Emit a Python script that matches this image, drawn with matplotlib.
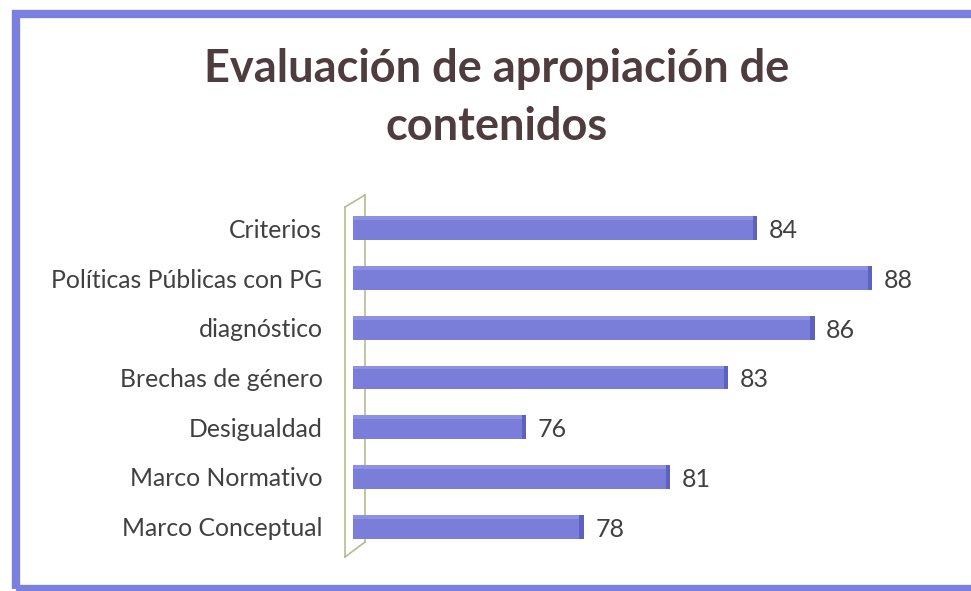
import matplotlib.pyplot as plt
from matplotlib.patches import Rectangle
from matplotlib.lines import Line2D

# Datos del gráfico (de abajo hacia arriba)
categorias = ["Marco Conceptual", "Marco Normativo", "Desigualdad",
              "Brechas de género", "diagnóstico", "Políticas Públicas con PG",
              "Criterios"]
valores = [78, 81, 76, 83, 86, 88, 84]

titulo = "Evaluación de apropiación de\ncontenidos"

COLOR_BARRA = "#7a7ed9"
COLOR_LADO = "#5d61c2"
COLOR_BRILLO = "#8d91e2"
COLOR_MARCO = "#7a80dd"
COLOR_PARED = "#b4bc94"

plt.rcParams['font.family'] = ['Lato', 'DejaVu Sans']

fig = plt.figure(figsize=(9.71, 5.91), dpi=100)
fig.patch.set_facecolor("white")

# marco azul alrededor del gráfico
fig.add_artist(Rectangle((16 / 971, 2 / 591), 1.2, 575 / 591,
                         transform=fig.transFigure, fill=False,
                         edgecolor=COLOR_MARCO, linewidth=6))

ax = fig.add_axes([353 / 971, 1 - 554 / 591, (930 - 353) / 971, 353 / 591])
ax.set_facecolor("none")
ax.set_zorder(2)

pos = list(range(len(categorias)))
alto = 0.48
ax.barh(pos, [v - 70 for v in valores], left=70, height=alto,
        color=COLOR_BARRA, edgecolor="none", zorder=2)
# borde superior claro y lado oscuro para simular el 3D
ax.barh([p + alto * 0.42 for p in pos], [v - 70 for v in valores], left=70,
        height=alto * 0.16, color=COLOR_BRILLO, edgecolor="none", zorder=3)
ax.barh(pos, [0.15] * len(valores), left=[v - 0.15 for v in valores],
        height=alto, color=COLOR_LADO, edgecolor="none", zorder=4)

for p, v in zip(pos, valores):
    ax.text(v + 0.4, p - 0.05, str(v), va="center", ha="left",
            fontsize=18, color="#404040")

ax.set_xlim(70, 90)
ax.set_ylim(-0.55, len(categorias) - 0.45)
ax.set_yticks(pos)
ax.set_yticklabels(categorias, fontsize=17.8, color="#404040")
ax.tick_params(axis="y", length=0, pad=22)
ax.set_xticks([])
for s in ax.spines.values():
    s.set_visible(False)

# pared lateral (eje 3D), detrás de las barras
x0, x1 = 345 / 971, 365 / 971
yb0, yb1 = 1 - 557 / 591, 1 - 542 / 591
yt0, yt1 = 1 - 207 / 591, 1 - 195 / 591
for xs, ys in [([x0, x0], [yb0, yt0]), ([x1, x1], [yb1, yt1]),
               ([x0, x1], [yt0, yt1]), ([x0, x1], [yb0, yb1])]:
    fig.add_artist(Line2D(xs, ys, transform=fig.transFigure,
                          color=COLOR_PARED, linewidth=1.2, zorder=0.5))

fig.text(497 / 971, 1 - 98 / 591, titulo, ha="center", va="center",
         fontsize=32.5, fontweight="bold", color="#4e3c3e", linespacing=1.5)

fig.savefig("out.png", dpi=100)
